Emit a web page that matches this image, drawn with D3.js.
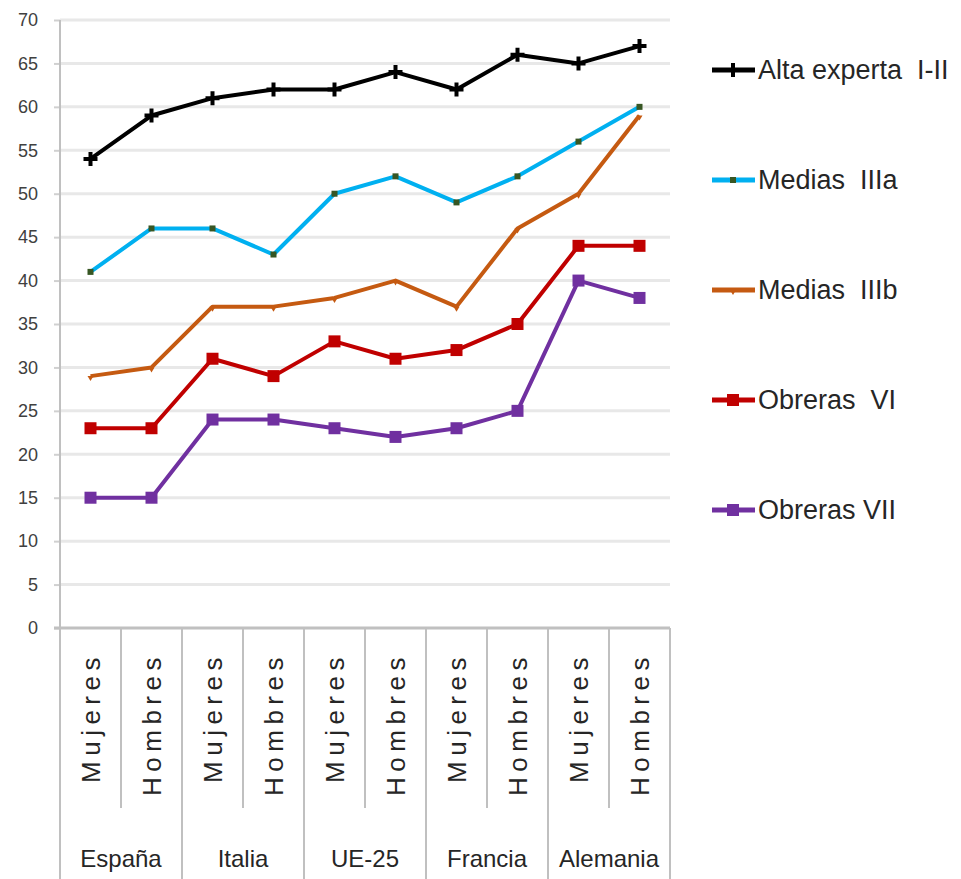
<!DOCTYPE html>
<html>
<head>
<meta charset="utf-8">
<script src="https://cdn.jsdelivr.net/npm/d3@7"></script>
<style>
  body { margin: 0; background: #fff; }
  text { font-family: "Liberation Sans Narrow", "Arial Narrow", "Liberation Sans", sans-serif; white-space: pre; }
</style>
</head>
<body>
<div id="wrapper"></div>
<script>
const countries = ["España", "Italia", "UE-25", "Francia", "Alemania"];
const sexes = ["Mujeres", "Hombres"];
const yTicks = [0, 5, 10, 15, 20, 25, 30, 35, 40, 45, 50, 55, 60, 65, 70];

const seriesNames = ["Alta experta  I-II", "Medias  IIIa", "Medias  IIIb", "Obreras  VI", "Obreras VII"];
const altaExperta = [54, 59, 61, 62, 62, 64, 62, 66, 65, 67];
const mediasIIIa = [41, 46, 46, 43, 50, 52, 49, 52, 56, 60];
const mediasIIIb = [29, 30, 37, 37, 38, 40, 37, 46, 50, 59];
const obrerasVI = [23, 23, 31, 29, 33, 31, 32, 35, 44, 44];
const obrerasVII = [15, 15, 24, 24, 23, 22, 23, 25, 40, 38];

const lineColors = ["#000000", "#00b0f0", "#c55a11", "#c00000", "#7030a0"];
const markerColors = ["#000000", "#375623", "#c55a11", "#c00000", "#7030a0"];

const categories = [];
countries.forEach(c => sexes.forEach(s => categories.push({ key: c + "|" + s, country: c, sex: s })));

const series = seriesNames.map((name, i) => ({
  name,
  values: [altaExperta, mediasIIIa, mediasIIIb, obrerasVI, obrerasVII][i],
  color: lineColors[i],
  marker: markerColors[i]
}));

const dimensions = {
  width: 961,
  height: 879,
  margin: { top: 20, right: 291, bottom: 251, left: 60 }
};
dimensions.boundedWidth = dimensions.width - dimensions.margin.left - dimensions.margin.right;
dimensions.boundedHeight = dimensions.height - dimensions.margin.top - dimensions.margin.bottom;

const wrapper = d3.select("#wrapper")
  .append("svg")
  .attr("width", dimensions.width)
  .attr("height", dimensions.height);

const bounds = wrapper.append("g")
  .attr("transform", `translate(${dimensions.margin.left},${dimensions.margin.top})`);

const xScale = d3.scaleBand()
  .domain(categories.map(d => d.key))
  .range([0, dimensions.boundedWidth]);

const yScale = d3.scaleLinear()
  .domain([0, 70])
  .range([dimensions.boundedHeight, 0]);

// gridlines + y ticks
const yAxis = bounds.append("g")
  .call(d3.axisLeft(yScale).tickValues(yTicks).tickSize(6).tickPadding(16));
yAxis.select(".domain").remove();
yAxis.selectAll(".tick line").attr("stroke", "#d0d0d0").attr("stroke-width", 2);
yAxis.selectAll(".tick text")
  .attr("fill", "#404040")
  .style("font-size", "18px");

bounds.append("g")
  .selectAll("line")
  .data(yTicks.filter(t => t > 0))
  .join("line")
  .attr("x1", 0)
  .attr("x2", dimensions.boundedWidth)
  .attr("y1", d => yScale(d))
  .attr("y2", d => yScale(d))
  .attr("stroke", "#e8e8e8")
  .attr("stroke-width", 3);

// y axis line
bounds.append("line")
  .attr("x1", 0).attr("x2", 0)
  .attr("y1", 0).attr("y2", dimensions.boundedHeight)
  .attr("stroke", "#c0c0c0").attr("stroke-width", 2);

// x axis line
bounds.append("line")
  .attr("x1", -6).attr("x2", dimensions.boundedWidth)
  .attr("y1", dimensions.boundedHeight).attr("y2", dimensions.boundedHeight)
  .attr("stroke", "#c0c0c0").attr("stroke-width", 3);

// category separators
const bw = xScale.bandwidth();
const separators = d3.range(categories.length + 1);
bounds.append("g")
  .selectAll("line")
  .data(separators)
  .join("line")
  .attr("x1", i => i * bw)
  .attr("x2", i => i * bw)
  .attr("y1", dimensions.boundedHeight)
  .attr("y2", i => i % 2 === 0 ? dimensions.height : dimensions.boundedHeight + 180)
  .attr("stroke", "#c0c0c0")
  .attr("stroke-width", 2);

// sex labels
bounds.append("g")
  .selectAll("text")
  .data(categories)
  .join("text")
  .attr("transform", d => `translate(${xScale(d.key) + bw / 2 + 9},${dimensions.boundedHeight + 24}) rotate(-90)`)
  .attr("text-anchor", "end")
  .attr("fill", "#262626")
  .style("font-size", "26px")
  .style("letter-spacing", "5.5px")
  .text(d => d.sex);

// country labels
bounds.append("g")
  .selectAll("text")
  .data(countries)
  .join("text")
  .attr("x", (d, i) => (i * 2 + 1) * bw)
  .attr("y", dimensions.boundedHeight + 239)
  .attr("text-anchor", "middle")
  .attr("fill", "#262626")
  .style("font-size", "24px")
  .text(d => d);

// lines
const lineGen = d3.line()
  .x((d, i) => xScale(categories[i].key) + bw / 2)
  .y(d => yScale(d));

const lines = bounds.append("g")
  .selectAll("g")
  .data(series)
  .join("g");

lines.append("path")
  .attr("d", d => lineGen(d.values))
  .attr("fill", "none")
  .attr("stroke", d => d.color)
  .attr("stroke-width", 4)
  .attr("stroke-linejoin", "round");

function drawMarker(sel, si, cx, cy, color) {
  if (si === 0) {
    sel.append("path")
      .attr("d", `M${cx - 7},${cy - 2} h5 v-5 h4 v5 h5 v4 h-5 v5 h-4 v-5 h-5 Z`)
      .attr("fill", color);
  } else if (si === 1) {
    sel.append("rect")
      .attr("x", cx - 3).attr("y", cy - 3).attr("width", 6).attr("height", 6)
      .attr("fill", color);
  } else if (si === 2) {
    sel.append("path")
      .attr("d", `M${cx - 3},${cy} L${cx + 3},${cy} L${cx},${cy + 5} Z`)
      .attr("fill", color);
  } else {
    sel.append("rect")
      .attr("x", cx - 6).attr("y", cy - 6).attr("width", 12).attr("height", 12)
      .attr("fill", color);
  }
}

series.forEach((s, si) => {
  const g = lines.filter(d => d === s);
  s.values.forEach((v, i) => {
    drawMarker(g, si, xScale(categories[i].key) + bw / 2, yScale(v), s.marker);
  });
});

// legend
const legendY = d3.scalePoint()
  .domain(seriesNames)
  .range([70, 510]);

const legend = wrapper.append("g")
  .selectAll("g")
  .data(series)
  .join("g")
  .attr("transform", d => `translate(712,${legendY(d.name)})`);

legend.append("line")
  .attr("x1", 0).attr("x2", 43)
  .attr("stroke", d => d.color)
  .attr("stroke-width", 5);

legend.each(function (d, i) {
  drawMarker(d3.select(this), i, 21, 0, d.marker);
});

legend.append("text")
  .attr("x", 46)
  .attr("y", 9)
  .attr("fill", "#262626")
  .style("font-size", "27px")
  .text(d => d.name);
</script>
</body>
</html>
